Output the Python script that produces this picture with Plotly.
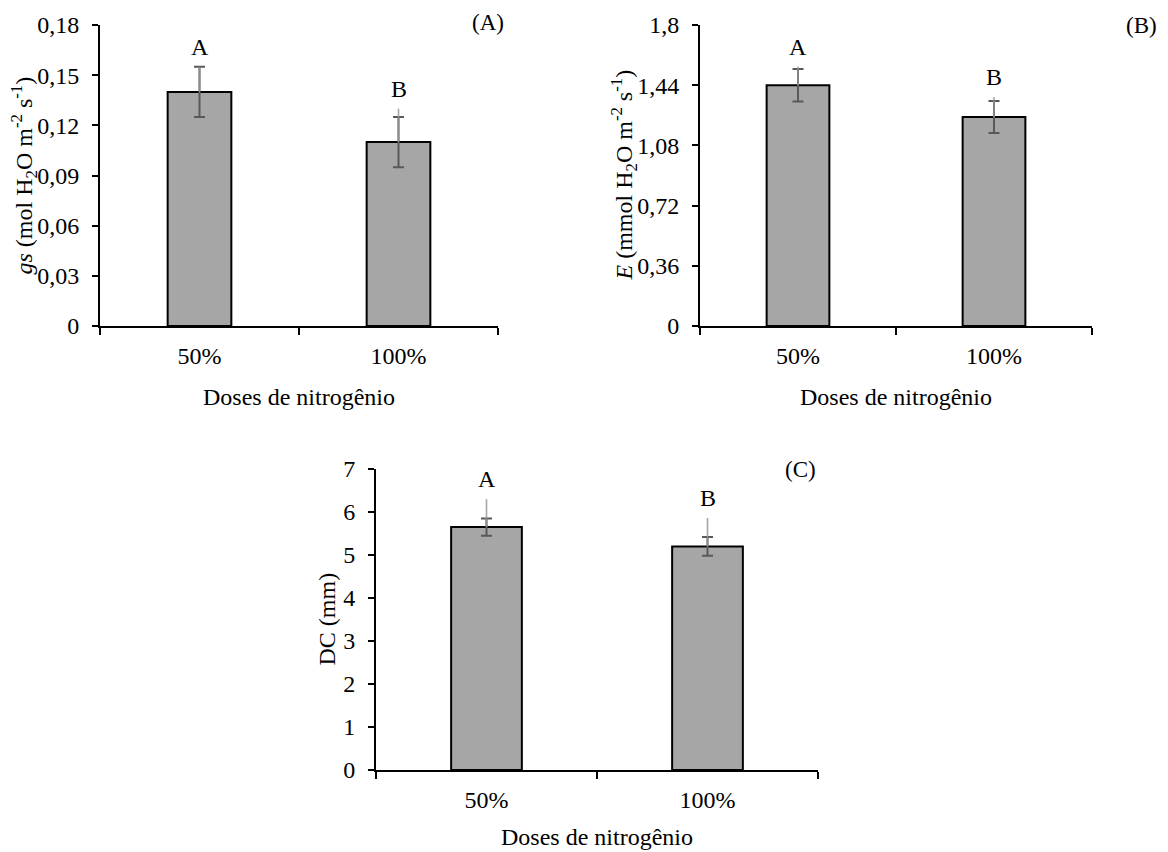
import plotly.graph_objects as go

categories = ["50%", "100%"]

gs_mean = [0.140, 0.110]
gs_err = [0.015, 0.015]
gs_ghost = [0.015, 0.020]
gs_letters = ["A", "B"]
gs_ticks = [0, 0.03, 0.06, 0.09, 0.12, 0.15, 0.18]
gs_ticktext = ["0", "0,03", "0,06", "0,09", "0,12", "0,15", "0,18"]

e_mean = [1.44, 1.25]
e_err = [0.097, 0.096]
e_ghost = [0.11, 0.12]
e_letters = ["A", "B"]
e_ticks = [0, 0.36, 0.72, 1.08, 1.44, 1.8]
e_ticktext = ["0", "0,36", "0,72", "1,08", "1,44", "1,8"]

dc_mean = [5.65, 5.20]
dc_err = [0.20, 0.22]
dc_ghost = [0.65, 0.66]
dc_letters = ["A", "B"]
dc_ticks = [0, 1, 2, 3, 4, 5, 6, 7]
dc_ticktext = ["0", "1", "2", "3", "4", "5", "6", "7"]

xtitle = "Doses de nitrogênio"

FONT = "Liberation Serif"
FS = 24
W, H = 1168, 852
OFF = 8  # page body margin offset

panels = [
    dict(mean=gs_mean, err=gs_err, ghost=gs_ghost, letters=gs_letters,
         ticks=gs_ticks, ticktext=gs_ticktext, rng=[0, 0.18],
         xdom=[100, 498], ydom=[25, 326], ax="", tag="(A)", tagpos=(506, 23),
         ytitle="<i>gs</i> (mol H<sub>2</sub>O m<sup>-2</sup> s<sup>-1</sup>)",
         ytx=24, xty=397),
    dict(mean=e_mean, err=e_err, ghost=e_ghost, letters=e_letters,
         ticks=e_ticks, ticktext=e_ticktext, rng=[0, 1.8],
         xdom=[700, 1092], ydom=[25, 326], ax="2", tag="(B)", tagpos=(1159, 25),
         ytitle="<i>E</i> (mmol H<sub>2</sub>O m<sup>-2</sup> s<sup>-1</sup>)",
         ytx=624, xty=397),
    dict(mean=dc_mean, err=dc_err, ghost=dc_ghost, letters=dc_letters,
         ticks=dc_ticks, ticktext=dc_ticktext, rng=[0, 7],
         xdom=[376, 818], ydom=[469, 770], ax="3", tag="(C)", tagpos=(818, 469),
         ytitle="DC (mm)", ytx=326, xty=837),
]


def px(v):
    return (v - OFF) / W


def py(v):
    return 1 - (v - OFF) / H


fig = go.Figure()
annotations = []
layout = {}

for p in panels:
    xa = "x" + p["ax"]
    ya = "y" + p["ax"]
    fig.add_trace(go.Bar(
        x=categories, y=p["mean"], xaxis=xa, yaxis=ya, width=0.32,
        marker=dict(color="#a6a6a6", line=dict(color="black", width=2)),
        error_y=dict(type="data", array=p["err"], color="#595959",
                     thickness=2, width=5.5),
        showlegend=False, hoverinfo="skip"))
    fig.add_trace(go.Scatter(
        x=categories, y=p["mean"], xaxis=xa, yaxis=ya, mode="markers",
        marker=dict(size=1, opacity=0),
        error_y=dict(type="data", array=p["ghost"], arrayminus=[0, 0],
                     color="rgba(150,150,150,0.85)", thickness=1.6, width=0),
        showlegend=False, hoverinfo="skip"))
    x0, x1 = p["xdom"]
    y0, y1 = p["ydom"]
    layout["xaxis" + p["ax"]] = dict(
        domain=[px(x0), px(x1)], anchor=ya, type="category",
        range=[-0.5, 1.5], showline=True, linecolor="black", linewidth=2,
        ticks="outside", tickson="boundaries", ticklen=7, tickwidth=2,
        tickcolor="black", showgrid=False, zeroline=False, automargin=False,
        tickfont=dict(family=FONT, size=FS, color="black"),
        ticklabelstandoff=7)
    layout["yaxis" + p["ax"]] = dict(
        domain=[py(y1), py(y0)], anchor=xa, range=p["rng"],
        tickvals=p["ticks"], ticktext=p["ticktext"],
        showline=True, linecolor="black", linewidth=2,
        ticks="outside", ticklen=6, tickwidth=2, tickcolor="black",
        showgrid=False, zeroline=False, automargin=False,
        tickfont=dict(family=FONT, size=FS, color="black"),
        ticklabelstandoff=8)
    for i, c in enumerate(categories):
        annotations.append(dict(
            x=c, y=p["mean"][i] + p["ghost"][i], xref=xa, yref=ya,
            text=p["letters"][i], showarrow=False, yanchor="bottom",
            yshift=5, font=dict(family=FONT, size=FS, color="black")))
    tx, ty = p["tagpos"]
    annotations.append(dict(
        x=px(tx), y=py(ty), xref="paper", yref="paper",
        text=p["tag"], showarrow=False, xanchor="right", yanchor="middle",
        font=dict(family=FONT, size=FS - 1, color="black")))
    annotations.append(dict(
        x=px(p["ytx"]), y=py((y0 + y1) / 2), xref="paper", yref="paper",
        text=p["ytitle"], textangle=-90, showarrow=False,
        xanchor="center", yanchor="middle",
        font=dict(family=FONT, size=FS, color="black")))
    annotations.append(dict(
        x=px((x0 + x1) / 2), y=py(p["xty"]), xref="paper", yref="paper",
        text=xtitle, showarrow=False, xanchor="center", yanchor="middle",
        font=dict(family=FONT, size=FS, color="black")))

fig.update_layout(
    width=W, height=H, margin=dict(l=0, r=0, t=0, b=0),
    paper_bgcolor="white", plot_bgcolor="white",
    font=dict(family=FONT, size=FS, color="black"),
    annotations=annotations, **layout)

fig.write_html("out.html")
